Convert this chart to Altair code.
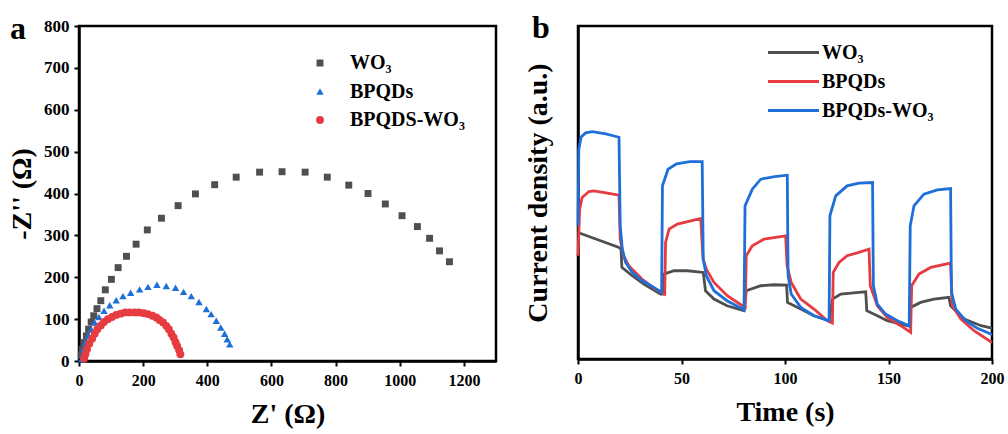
import altair as alt
import pandas as pd

FONT = "Liberation Serif"

# ---------------- Panel a: Nyquist plot ----------------
a_series = ["WO₃", "BPQDs", "BPQDS-WO₃"]
a_colors = ["#4f4f4f", "#1f6fd8", "#e63b40"]
a_shapes = ["square", "triangle-up", "circle"]
a_sizes = [48, 62, 42]

wo3_x = [7, 10, 16, 23, 30, 38, 46, 56, 68, 82, 101, 122, 148, 178, 213, 257, 309, 363,
         423, 490, 563, 633, 705, 774, 841, 901, 955, 1007, 1055, 1093, 1124, 1155]
wo3_y = [14, 28, 44, 60, 76, 93, 108, 125, 144, 170, 195, 223, 250, 279, 313, 341, 371, 399,
         421, 439, 451, 452, 451, 439, 420, 400, 375, 347, 321, 293, 263, 237]

bp_x = [8, 10, 14, 20, 28, 38, 49, 62, 78, 96, 116, 137, 161, 189, 215, 243, 272, 301,
        326, 350, 374, 397, 412, 428, 442, 454, 462, 470]
bp_y = [4, 14, 28, 44, 60, 76, 92, 105, 120, 133, 145, 155, 163, 171, 177, 182, 179, 175,
        165, 155, 141, 124, 112, 96, 80, 65, 52, 40]

bw_x = [16, 20, 25, 32, 41, 49, 57, 68, 78, 90, 103, 116, 130, 144, 158, 174, 187, 202,
        215, 229, 241, 251, 262, 272, 280, 288, 295, 301, 306, 312, 316]
bw_y = [6, 16, 28, 41, 53, 65, 76, 85, 93, 100, 105, 110, 113, 116, 116, 116, 116, 114,
        112, 108, 104, 98, 92, 84, 76, 65, 56, 45, 36, 26, 16]

a_x_ticks = [0, 200, 400, 600, 800, 1000, 1200]
a_y_ticks = [0, 100, 200, 300, 400, 500, 600, 700, 800]

rows_a = []
for name, xs, ys in zip(a_series, [wo3_x, bp_x, bw_x], [wo3_y, bp_y, bw_y]):
    for xv, yv in zip(xs, ys):
        rows_a.append({"zre": xv, "zim": yv, "sample_a": name})
df_a = pd.DataFrame(rows_a)

# ---------------- Panel b: transient photocurrent ----------------
b_series = ["WO₃", "BPQDs", "BPQDs-WO₃"]
b_colors = ["#4f4f4f", "#e63b40", "#1f6fd8"]

grey_t = [0, 19.8, 20.8, 21.2, 26.2, 31.8, 39.9, 41, 41.5, 46.4, 52.8, 60.5, 61.6, 65.7, 72,
          80.2, 81.3, 88.3, 94.7, 100.8, 101.2, 107.6, 114, 121.3, 123, 126.9, 135.7, 139,
          139.5, 144.6, 149.4, 159.1, 160.3, 160.7, 165.5, 171.9, 179.2, 180, 186.6, 194.7, 200]
grey_v = [38, 33.5, 33, 27.5, 25, 22.5, 19.5, 19.5, 25.5, 26.5, 26.5, 26, 20.5, 18, 16,
          14.5, 20.5, 22, 22.3, 22.2, 17, 15, 13, 11.5, 18, 19.5, 20, 20.2,
          14.5, 13, 11.5, 10, 9.8, 15.5, 17, 18, 18.5, 16, 12, 10, 9.3]

red_t = [0, 0.8, 2, 5.3, 7.7, 14.2, 19.8, 20.4, 22, 24.5, 30.9, 37.4, 41.9,
         42.3, 44, 48, 54.5, 59.3, 60.4, 62, 65.7, 72.1, 79.4, 80.8,
         81.3, 84.2, 89.9, 100.3, 101, 103, 107.6, 114, 120.5, 122.9,
         123.3, 126.1, 130, 135.7, 140.6, 141.2, 144.6, 149.4, 155.9, 160.7,
         161.2, 164.7, 170.4, 180, 180.8, 185, 191.3, 199.4, 200]
red_v = [31, 45, 48.5, 50.3, 50.5, 49.8, 49.2, 36, 31, 28, 24, 21, 19.5,
         35, 39, 40.5, 41.5, 42.2, 30, 27, 23, 19, 16, 15.5,
         31, 34, 36, 37, 28, 23, 18, 15, 11.5, 10.8,
         26, 29, 31, 32, 33, 22, 16, 12.5, 10, 8,
         22, 25.5, 27.5, 28.8, 16, 12, 8.5, 5.2, 5]

blue_t = [0, 0.4, 1.5, 3.7, 6.9, 13.4, 19.8, 20.4, 21.4, 23, 26.2, 31, 36.6, 40.4,
          40.8, 43.5, 47.6, 54, 60, 60.5, 62, 65.7, 72, 80.2,
          80.7, 84.2, 88.3, 95, 101.1, 101.5, 103, 107.6, 114, 121.3,
          121.7, 124.5, 130, 135.7, 142.3, 142.7, 144.6, 148.6, 154.3, 160,
          160.5, 162.3, 167.1, 173.6, 180, 180.4, 182.5, 187.3, 192.9, 199.4, 200]
blue_v = [40, 63, 66.7, 67.9, 68.3, 67.6, 66.6, 40, 33, 29, 26, 23.5, 21.5, 20,
          52, 57, 58.6, 59.3, 59.3, 30, 25, 20.5, 17.5, 14.8,
          46, 51, 54, 54.8, 55.2, 25, 19.5, 15.5, 13, 11.5,
          43, 49, 52, 52.8, 53, 22, 16.5, 13.5, 11.5, 10,
          40, 46, 49.5, 50.8, 51.2, 20, 15, 11.5, 9.2, 7.5, 7.3]

b_x_ticks = [0, 50, 100, 150, 200]

rows_b = []
for name, ts, vs in zip(b_series, [grey_t, red_t, blue_t], [grey_v, red_v, blue_v]):
    for tv, vv in zip(ts, vs):
        rows_b.append({"time": tv, "current": vv, "sample_b": name})
df_b = pd.DataFrame(rows_b)

label_style = dict(labelFont=FONT, labelFontWeight="bold", labelColor="black",
                   titleFont=FONT, titleFontSize=28, titleFontWeight="bold", titleColor="black",
                   domainColor="black", domainWidth=2.5, tickColor="black", tickWidth=2,
                   grid=False, format="d", labelFlush=False)

legend_a = alt.Legend(title=None, orient="none", legendX=231, legendY=27,
                      labelFont=FONT, labelFontSize=20, labelFontWeight="bold",
                      labelColor="black", symbolSize=55, labelOffset=20,
                      rowPadding=8.5, padding=0)

chart_a = alt.Chart(df_a).mark_point(filled=True, opacity=1).encode(
    x=alt.X("zre:Q", title="Z' (Ω)",
            scale=alt.Scale(domain=[0, 1300], nice=False, zero=False),
            axis=alt.Axis(values=a_x_ticks, labelFontSize=16, tickSize=5, labelPadding=6,
                          titlePadding=12, **label_style)),
    y=alt.Y("zim:Q", title="-Z'' (Ω)",
            scale=alt.Scale(domain=[0, 800], nice=False),
            axis=alt.Axis(values=a_y_ticks, labelFontSize=17, tickSize=5, labelPadding=5,
                          titlePadding=7, **label_style)),
    color=alt.Color("sample_a:N", sort=a_series,
                    scale=alt.Scale(domain=a_series, range=a_colors), legend=legend_a),
    shape=alt.Shape("sample_a:N", sort=a_series,
                    scale=alt.Scale(domain=a_series, range=a_shapes), legend=legend_a),
    size=alt.Size("sample_a:N", sort=a_series,
                  scale=alt.Scale(domain=a_series, range=a_sizes), legend=None),
).properties(
    width=417, height=335,
    title=alt.TitleParams("a", anchor="start", frame="group", dx=-69, dy=16, offset=-38,
                          baseline="alphabetic", font=FONT, fontSize=32, fontWeight="bold",
                          color="black"),
)

chart_b = alt.Chart(df_b).mark_line(strokeWidth=2.8).encode(
    x=alt.X("time:Q", title="Time (s)",
            scale=alt.Scale(domain=[0, 200], nice=False),
            axis=alt.Axis(values=b_x_ticks, labelFontSize=16, tickSize=5, labelPadding=6,
                          titlePadding=12, **label_style)),
    y=alt.Y("current:Q", title="Current density (a.u.)",
            scale=alt.Scale(domain=[0, 100], nice=False),
            axis=alt.Axis(labels=False, ticks=False, titlePadding=26, **label_style)),
    color=alt.Color("sample_b:N", sort=b_series,
                    scale=alt.Scale(domain=b_series, range=b_colors),
                    legend=alt.Legend(title=None, orient="none", legendX=204, legendY=15,
                                      labelFont=FONT, labelFontSize=20, labelFontWeight="bold",
                                      labelColor="black", symbolType="M-2.6,0H2.6",
                                      symbolSize=384, symbolStrokeWidth=3, labelOffset=17,
                                      rowPadding=7, padding=0)),
).properties(
    width=414, height=333,
    title=alt.TitleParams("b", anchor="start", frame="group", dx=-46, dy=6, offset=-38,
                          baseline="alphabetic", font=FONT, fontSize=32, fontWeight="bold",
                          color="black"),
)

chart = alt.hconcat(chart_a, chart_b, spacing=24).resolve_scale(
    color="independent", shape="independent", size="independent"
).configure(
    padding={"left": 7, "top": 10, "right": 0, "bottom": 0},
    background="white",
).configure_view(stroke="black", strokeWidth=2.5)

chart.save("out.html", embed_options={"renderer": "svg", "actions": False})
